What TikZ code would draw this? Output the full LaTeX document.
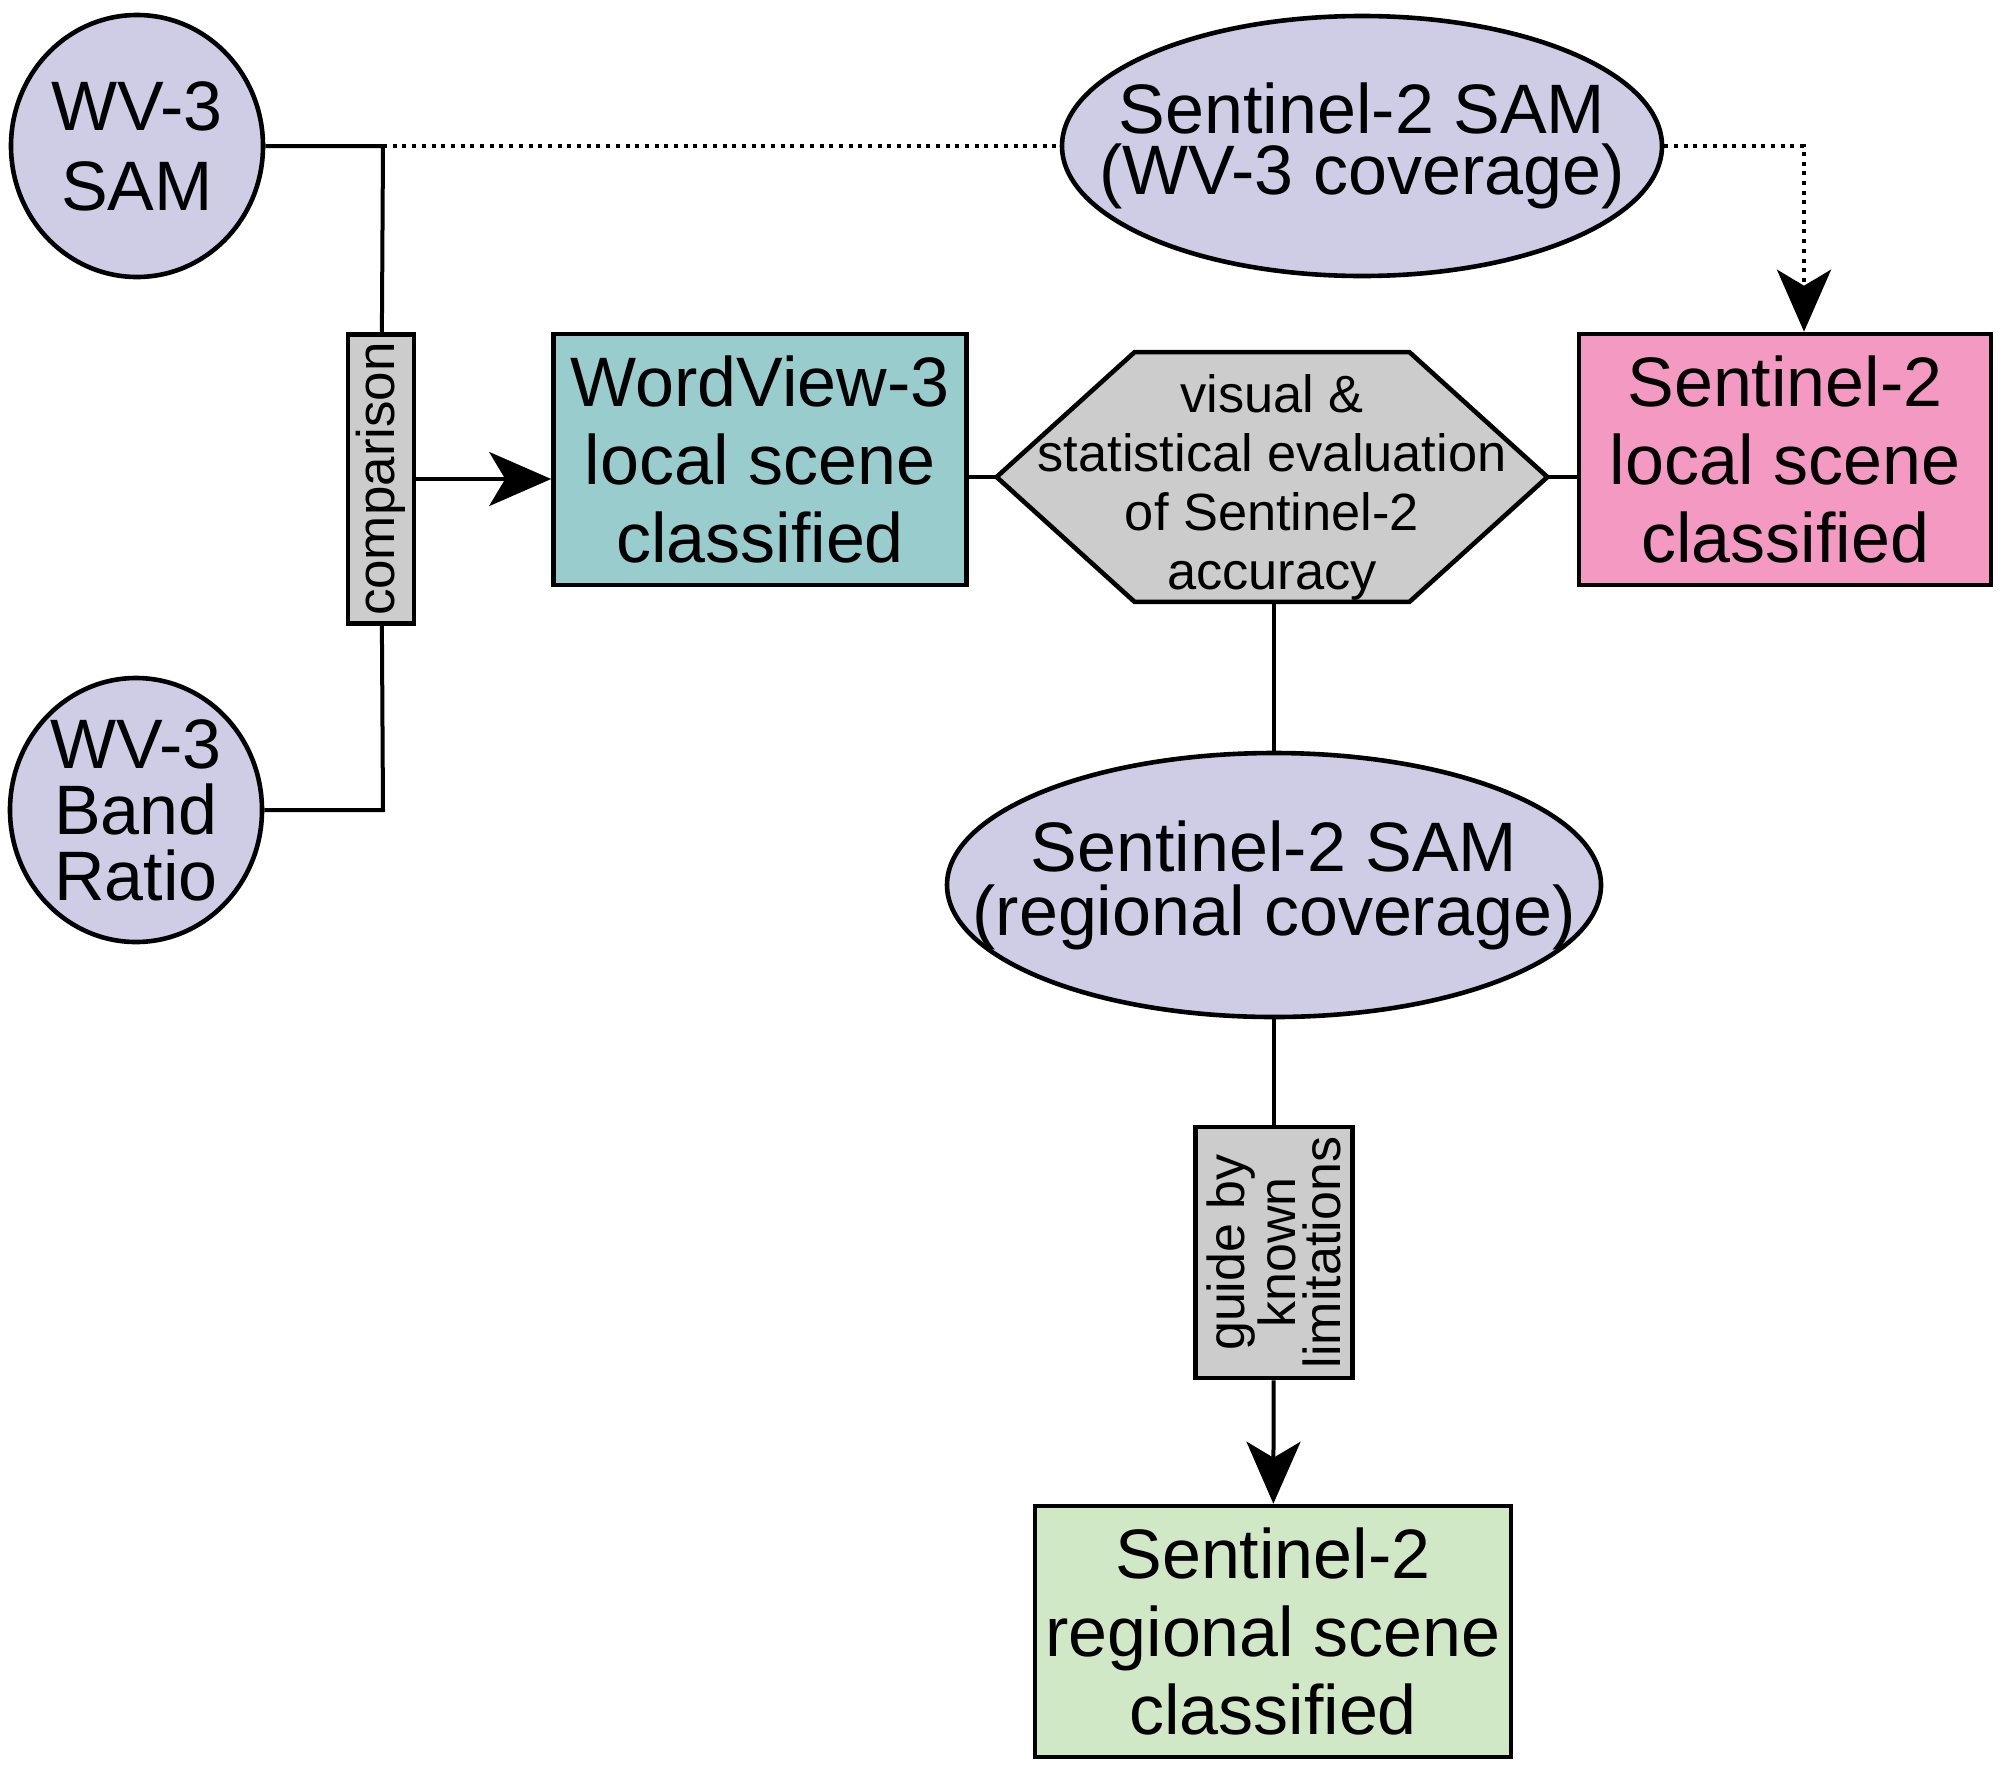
\documentclass[tikz,border=0pt]{standalone}
\usepackage{fontspec}
\setmainfont{Liberation Sans}
\usetikzlibrary{shapes.geometric,arrows.meta,backgrounds,calc}
\definecolor{lav}{RGB}{207,204,230}
\definecolor{tealbox}{RGB}{153,204,204}
\definecolor{pinkbox}{RGB}{244,153,194}
\definecolor{graybox}{RGB}{204,204,204}
\definecolor{greenbox}{RGB}{209,232,199}
\begin{document}
\begin{tikzpicture}[x=0.5pt,y=-0.5pt,
  big/.style={font=\fontsize{35}{39}\selectfont, align=center},
  circ/.style={ellipse, draw, line width=2.3pt, fill=lav, inner xsep=-60pt, inner ysep=-10pt, big},
  boxnode/.style={rectangle, draw, line width=2.3pt, inner sep=0pt, big},
  lab/.style={rectangle, draw, line width=2.3pt, fill=graybox, inner sep=0pt, rotate=90, align=center},
  conn/.style={line width=2pt},
  arr/.style={conn, -{Stealth[length=31pt,width=27pt,inset=8pt]}},
  dotline/.style={line width=2pt, dash pattern=on 2pt off 2.85pt}]
\useasboundingbox (0,0) rectangle (2000,1767);
% nodes
\node[circ, minimum width=126pt, minimum height=131pt, font=\fontsize{35}{40}\selectfont] (sam) at (137,146) {WV-3\\SAM};
\node[circ, minimum width=126pt, minimum height=132pt, font=\fontsize{35}{33}\selectfont] (bandratio) at (136,810) {WV-3\\Band\\Ratio};
\node[lab, minimum width=144.5pt, minimum height=33pt, font=\fontsize{26.5}{26}\selectfont] (comp) at (381,479) {comparison};
\node[boxnode, fill=tealbox, minimum width=206.5pt, minimum height=125.5pt] (wv3) at (760,459.5) {WordView-3\\local scene\\classified};
\node[inner sep=0pt, minimum width=275pt, minimum height=124.5pt] (hexshape) at (1272,477) {};
\node[font=\fontsize{26.2}{29.5}\selectfont, align=center, inner sep=0pt] (hex) at (1272,487) {visual \&\\statistical evaluation\\of Sentinel-2\\accuracy};
\node[boxnode, fill=pinkbox, minimum width=206pt, minimum height=125.5pt] (s2local) at (1785,459.5) {Sentinel-2\\local scene\\classified};
\node[circ, minimum width=300pt, minimum height=130pt, font=\fontsize{35}{30.5}\selectfont] (s2top) at (1362,146) {Sentinel-2 SAM\\(WV-3 coverage)};
\node[circ, minimum width=327pt, minimum height=132pt, font=\fontsize{35}{32}\selectfont] (regional) at (1274,885) {Sentinel-2 SAM\\(regional coverage)};
\node[lab, minimum width=125.5pt, minimum height=78.5pt, font=\fontsize{26}{22.5}\selectfont] (guide) at (1274,1252.5) {guide by\\known\\limitations};
\node[boxnode, fill=greenbox, minimum width=238pt, minimum height=125.5pt] (green) at (1273,1631.5) {Sentinel-2\\regional scene\\classified};
% hexagon outline
\begin{scope}[on background layer]
\draw[line width=2.3pt, fill=graybox] (hexshape.west) -- ($(hexshape.north west)+(138,0)$) -- ($(hexshape.north east)+(-138,0)$) -- (hexshape.east) -- ($(hexshape.south east)+(-138,0)$) -- ($(hexshape.south west)+(138,0)$) -- cycle;
\end{scope}
% connectors
\coordinate (J1) at (383,146);
\coordinate (J2) at (383,810);
\coordinate (C1) at (1804,146);
\draw[conn] (sam) -- (J1) -- (comp);
\draw[conn] (bandratio) -- (J2) -- (comp);
\draw[arr] (comp) -- (wv3.west |- comp);
\draw[dotline] (J1) -- (s2top);
\draw[dotline, -{Stealth[length=31pt,width=27pt,inset=8pt]}] (s2top) -- (C1) -- (C1 |- s2local.north);
\draw[conn] (wv3.east |- hexshape.west) -- (hexshape.west);
\draw[conn] (hexshape.east) -- (hexshape.east -| s2local.west);
\draw[conn] (hexshape.south -| regional.north) -- (regional);
\draw[conn] (regional) -- (guide);
\draw[arr] (guide) -- (green);
\end{tikzpicture}
\end{document}
